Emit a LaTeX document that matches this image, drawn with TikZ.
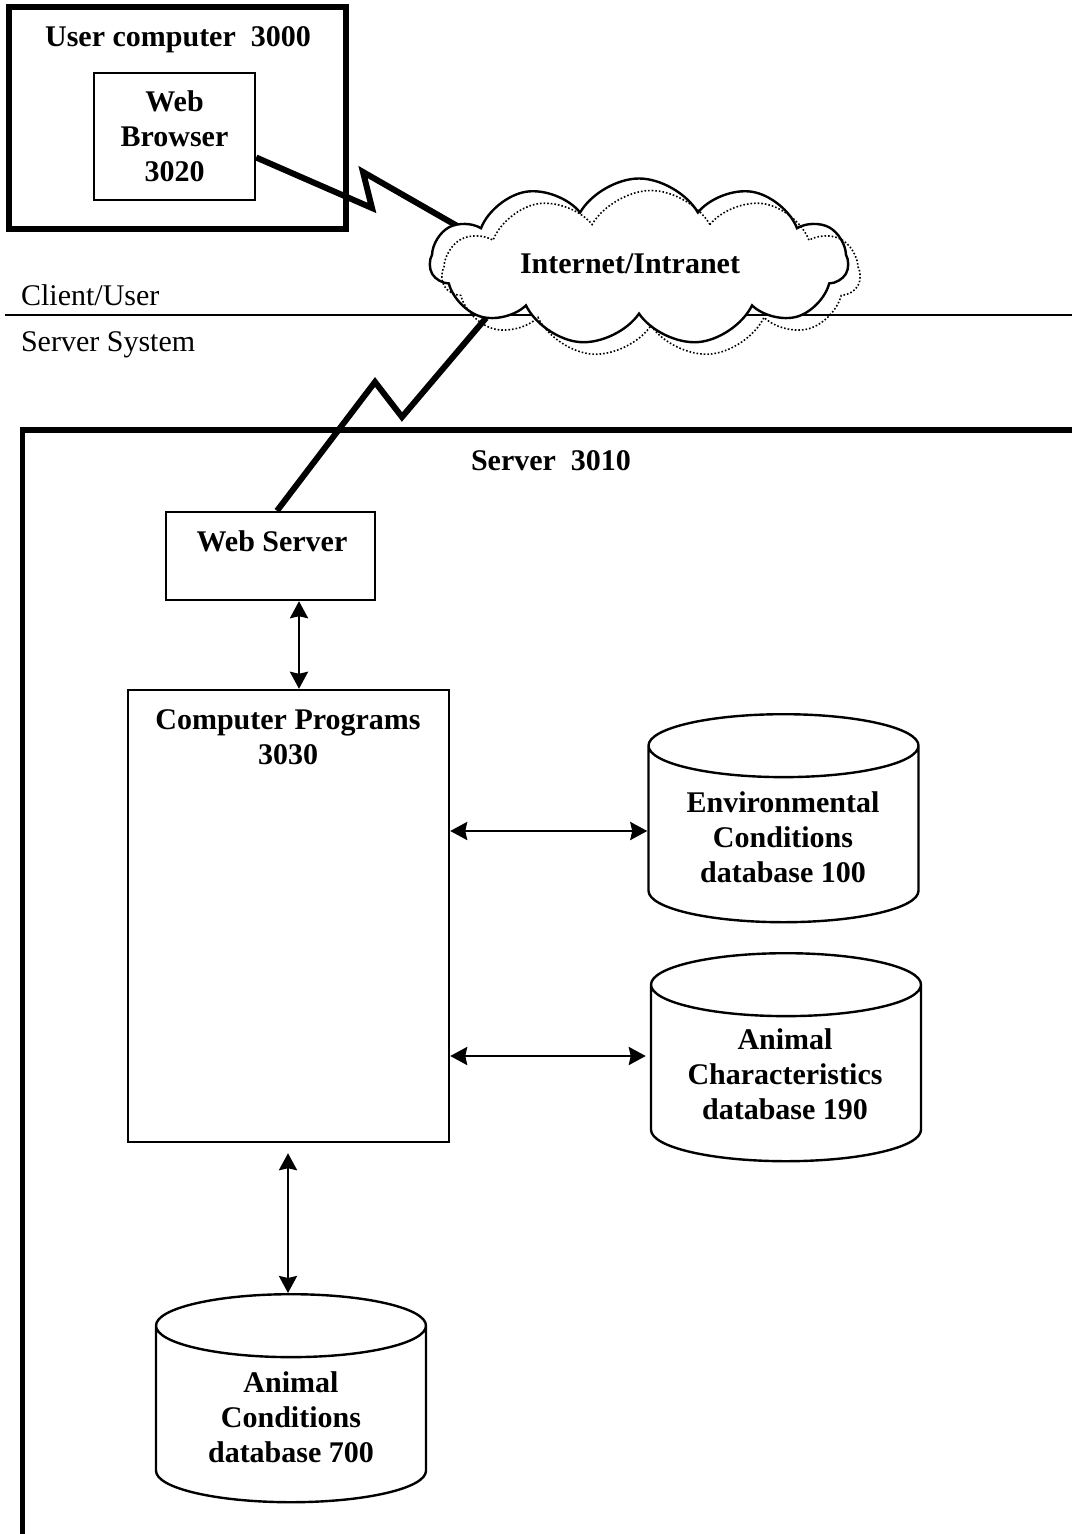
\documentclass[tikz,border=0pt]{standalone}
\usepackage{fontspec}
\setmainfont{Liberation Serif}
\usetikzlibrary{shapes.geometric, shapes.symbols, arrows.meta}
\newcommand{\bodyfont}{\fontsize{15}{17.5}\selectfont}
\tikzset{
	box/.style={draw, line width=1.2pt, align=center, font=\bodyfont\bfseries},
	heavybox/.style={draw, line width=3pt},
	title/.style={align=center, font=\bodyfont\bfseries},
	plain/.style={font=\bodyfont},
	db/.style={cylinder, shape border rotate=90, aspect=4.72, draw, line width=1.2pt,
		minimum width=135pt, minimum height=104pt, anchor=north},
	puffy/.style={cloud, cloud puffs=11, cloud puff arc=120, cloud ignores aspect,
		minimum width=209pt, minimum height=83.5pt},
	link/.style={line width=3pt},
	both/.style={{Stealth[length=8.5pt, width=9pt, inset=1pt]}-{Stealth[length=8.5pt, width=9pt, inset=1pt]}, line width=1.4pt},
}
\begin{document}
\begin{tikzpicture}[x=0.5pt, y=-0.5pt]
	\useasboundingbox (0,0) rectangle (1072,1534);
	% client side
	\node[heavybox, minimum width=168.5pt, minimum height=111pt] (user) at (177.5,118) {};
	\node[title] (usert) at (178,40) {User computer~ 3000};
	\node[box, minimum width=80.5pt, minimum height=63.5pt] (browser) at (174.5,136.5) {Web\\Browser\\3020};

	% split between client and server
	\draw[line width=1pt] (5,315) -- (1072,315);
	\node[plain, anchor=west] (client) at (14,295) {Client/User};
	\node[plain, anchor=west] (serversys) at (14,345) {Server System};

	% server side
	\draw[line width=2.5pt] (22,1534) -- (22,430) -- (1072,430);
	\node[title] (servert) at (551,461) {Server~ 3010};

	\node[box, minimum width=104.5pt, minimum height=44pt] (web) at (270.5,556) {};
	\node[title] (webt) at (272,541) {Web Server};

	\node[box, minimum width=160.5pt, minimum height=226pt] (progs) at (288.5,916) {};
	\node[title] (progst) at (288,737) {Computer Programs\\3030};

	% the network (links run in under the cloud)
	\coordinate (nethigh) at (466,231);
	\coordinate (netlow) at (486,318);
	\draw[link] ([yshift=-10.5pt]browser.east) -- (372,208) -- (363,172) -- (nethigh);
	\draw[link] (netlow) -- (402,417) -- (375,382) -- ([xshift=3.25pt]web.north);

	\node[puffy, draw, fill=white, line width=1.2pt] (net) at (639,262) {};
	\node[puffy, draw, densely dotted, line width=0.8pt] (shadow) at (651,274) {};
	\node[title] (nett) at (630,264) {Internet/Intranet};

	% databases
	\node[db] (env) at (783.5,713) {};
	\node[title] (envt) at (783,837) {Environmental\\Conditions\\database 100};
	\node[db] (chars) at (786,952) {};
	\node[title] (charst) at (785,1074) {Animal\\Characteristics\\database 190};
	\node[db] (cond) at (291,1293) {};
	\node[title] (condt) at (291,1417) {Animal\\Conditions\\database 700};

	% data flow
	\coordinate (envport) at ([yshift=42.5pt]progs.east);
	\coordinate (charsport) at ([yshift=-70pt]progs.east);
	\draw[both] ([xshift=14.25pt]web.south) -- ([xshift=14.25pt]web.south |- progs.north);
	\draw[both] (envport) -- (envport -| env.west);
	\draw[both] (charsport) -- ([xshift=-2pt]charsport -| chars.west);
	\draw[both, shorten <=5pt] ([xshift=-0.25pt]progs.south) -- ([xshift=-0.25pt]progs.south |- cond.north);
\end{tikzpicture}
\end{document}
